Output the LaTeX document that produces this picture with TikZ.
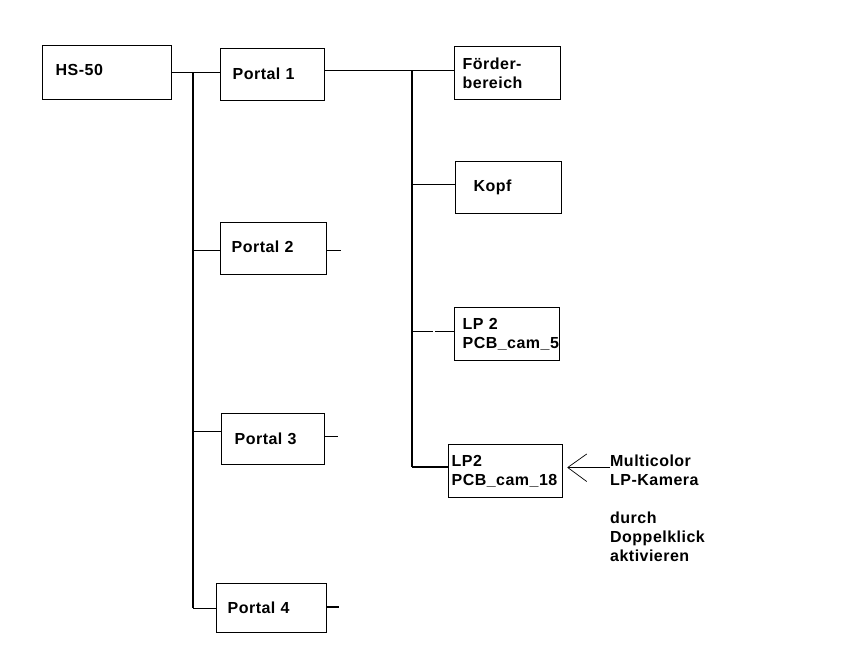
\documentclass[tikz,border=0pt]{standalone}
\usepackage{fontspec}
\setmainfont{Liberation Sans}[LetterSpace=3]
\begin{document}
\begin{tikzpicture}[x=1pt,y=-1pt,
  every node/.style={font=\bfseries\fontsize{16}{19}\selectfont},
  box/.style={draw,rectangle,anchor=north west,align=left,inner ysep=0pt,line width=1.3pt},
  lk/.style={line width=1.3pt}]
\useasboundingbox (0,0) rectangle (852,645);
% boxes
\node[box,minimum width=129pt,minimum height=54pt,inner xsep=13pt,text width=103pt] (hs) at (42,45) {\raisebox{5pt}{HS-50}};
\node[box,minimum width=104pt,minimum height=52pt,inner xsep=12pt,text width=80pt] (p1) at (220,48) {\raisebox{2pt}{Portal 1}};
\node[box,minimum width=106pt,minimum height=52pt,inner xsep=11pt,text width=84pt] (p2) at (220,222) {\raisebox{4pt}{Portal 2}};
\node[box,minimum width=103pt,minimum height=51pt,inner xsep=13pt,text width=77pt] (p3) at (221,413) {Portal 3};
\node[box,minimum width=110pt,minimum height=49pt,inner xsep=11pt,text width=88pt] (p4) at (216,583) {Portal 4};
\node[box,minimum width=106pt,minimum height=53pt,inner xsep=8pt,text width=90pt] (foerder) at (454,46) {Förder-\\bereich};
\node[box,minimum width=106pt,minimum height=52pt,inner xsep=18pt,text width=70pt] (kopf) at (455,161) {Kopf};
\node[box,minimum width=105pt,minimum height=53pt,inner xsep=8pt,text width=89pt] (lp5) at (454,307) {LP 2\\PCB\_cam\_5};
\node[box,minimum width=114pt,minimum height=53pt,inner xsep=3pt,text width=108pt] (lp18) at (448,444) {LP2\\PCB\_cam\_18};
\node[anchor=west,align=left,inner sep=0pt] (note) at (610,508.5) {Multicolor\\LP-Kamera\\[19pt]durch\\Doppelklick\\aktivieren};
% left bus
\coordinate (b1) at (193,72);
\coordinate (b2) at (193,250.7);
\coordinate (b3) at (193,431.7);
\coordinate (b4) at (193,608.3);
\draw[lk] (hs.east) -- (hs.east -| p1.west);
\draw[lk] (b1) -- (b4);
\draw[lk] (b2) -- (b2 -| p2.west);
\draw[lk] (b3) -- (b3 -| p3.west);
\draw[lk] (b4) -- (b4 -| p4.west);
% stubs
\coordinate (s2) at (341,250.7);
\coordinate (s3) at (338,436.7);
\coordinate (s4) at (339,607);
\draw[lk] (p2.east |- s2) -- (s2);
\draw[lk] (p3.east |- s3) -- (s3);
\draw[lk] (p4.east |- s4) -- (s4);
% right bus
\coordinate (r1) at (412,70.7);
\coordinate (rk) at (412,184.7);
\coordinate (r3) at (412,331.7);
\coordinate (g1) at (433.3,331.7);
\coordinate (g2) at (435,331.7);
\coordinate (r4) at (412,467);
\draw[lk] (p1.east |- r1) -- (r1 -| foerder.west);
\draw[lk] (r1) -- (r4);
\draw[lk] (rk) -- (rk -| kopf.west);
\draw[lk] (r3) -- (g1);
\draw[lk] (g2) -- (g2 -| lp5.west);
\draw[lk] (r4) -- (r4 -| lp18.west);
% arrow to LP2 box
\coordinate (tip) at (567.7,467.5);
\draw[line width=1pt] (note.west |- tip) -- (tip);
\draw[line width=0.7pt] (tip) -- ++(19,-13.5);
\draw[line width=0.7pt] (tip) -- ++(19,14);
\end{tikzpicture}
\end{document}
